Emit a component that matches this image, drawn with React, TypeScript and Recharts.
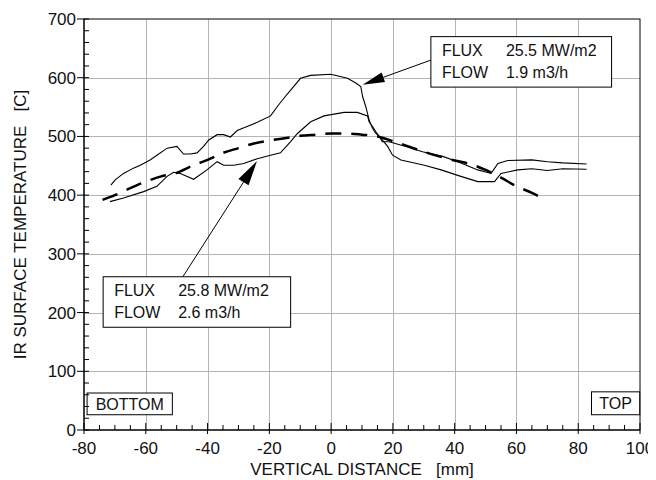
import { LineChart, Line, XAxis, YAxis, ReferenceLine, ReferenceArea, Label } from "recharts";

// FLUX 25.5 MW/m2, FLOW 1.9 m3/h (the curve peaking near 600 C)
const flow19X = [-71.3, -69.9, -67.2, -64, -61.8, -58.6, -56.4, -53.1, -49.9, -47.8, -45.6, -43.4, -41.3, -39.6, -36.9, -34.8, -32.6, -30.4, -27.2, -23.9, -19.6, -17.4, -15.3, -13.1, -9.9, -6.6, -0.1, 5.3, 8, 9.6, 10.2, 11.2, 11.8, 12.3, 13.4, 14.5, 16.1, 18.3, 19.9, 22.6, 30.2, 35.6, 42, 47.5, 52.9, 55, 60.4, 65, 70, 75, 82.7];
const flow19T = [417, 426, 437, 446, 451, 460, 468, 480, 483, 470, 470, 472, 483, 494, 503, 503, 499, 510, 517, 524, 535, 551, 565, 579, 599, 604, 606, 599, 591, 585, 568, 551, 539, 528, 514, 505, 497, 483, 468, 460, 451, 443, 432, 423, 423, 437, 443, 445, 442, 445, 444];

// FLUX 25.8 MW/m2, FLOW 2.6 m3/h
const flow26X = [-71.6, -67.2, -60.7, -56.4, -53.1, -51, -48.8, -44.5, -40.2, -36.9, -34.8, -31.5, -28.3, -23.9, -19.6, -16.4, -13.1, -10.9, -6.6, -2.3, 4.2, 8.5, 11.8, 12.3, 13.4, 14.5, 15.6, 16.6, 18.8, 24.2, 29.6, 36.1, 41, 47.5, 51.8, 54, 57.2, 65, 70, 75, 82.7];
const flow26T = [389, 395, 406, 415, 432, 439, 437, 427, 443, 457, 451, 451, 454, 462, 468, 472, 491, 505, 525, 535, 541, 541, 535, 525, 517, 508, 500, 491, 491, 483, 474, 466, 457, 443, 437, 454, 459, 460, 457, 455, 453];

// dashed fit curve
const fitX = [-74, -70, -65, -60, -55, -50, -45, -40, -35, -30, -25, -20, -15, -10, -5, 0, 5, 10, 15, 20, 25, 30, 35, 40, 45, 50, 55, 60, 65, 68];
const fitT = [392, 400, 412, 423, 432, 438, 450, 460, 472, 480, 488, 493, 497, 501, 503, 505, 505, 503, 500, 492, 483, 474, 466, 459, 453, 443, 430, 415, 404, 396];

const xTicks = [-80, -75, -70, -65, -60, -55, -50, -45, -40, -35, -30, -25, -20, -15, -10, -5, 0, 5, 10, 15, 20, 25, 30, 35, 40, 45, 50, 55, 60, 65, 70, 75, 80, 85, 90, 95, 100];
const yTicks = [0, 20, 40, 60, 80, 100, 120, 140, 160, 180, 200, 220, 240, 260, 280, 300, 320, 340, 360, 380, 400, 420, 440, 460, 480, 500, 520, 540, 560, 580, 600, 620, 640, 660, 680, 700];
const gridX = [-60, -40, -20, 0, 20, 40, 60, 80];
const gridY = [100, 200, 300, 400, 500, 600];

const X_MIN = -80;
const X_MAX = 100;
const Y_MIN = 0;
const Y_MAX = 700;

const FONT = "'Liberation Sans', Arial, sans-serif";

const toPoints = (xs: number[], ts: number[]) => xs.map((x, i) => ({ x, t: ts[i] }));

const XTick = ({ x, y, payload }: any) => {
    const major = payload.value % 20 === 0;
    return (
        <g>
            <line x1={x} x2={x} y1={y - (major ? 7 : 5)} y2={y + (major ? 4 : 0)} stroke="#000" />
            {major && (
                <text x={x} y={y + 24} textAnchor="middle" fontSize={17} fontFamily={FONT} fill="#111">
                    {payload.value}
                </text>
            )}
        </g>
    );
};

const YTick = ({ x, y, payload }: any) => {
    const major = payload.value % 100 === 0;
    return (
        <g>
            <line x1={x - (major ? 7 : 0)} x2={x + 5} y1={y} y2={y} stroke="#000" />
            {major && (
                <text x={x - 8} y={y + 6} textAnchor="end" fontSize={17} fontFamily={FONT} fill="#111">
                    {payload.value}
                </text>
            )}
        </g>
    );
};

// grid + frame, drawn inside a rect that spans the full domain
const GridArea = ({ x, y, width, height }: any) => {
    let d = "";
    gridX.forEach((v) => {
        const px = Math.round(x + ((v - X_MIN) / (X_MAX - X_MIN)) * width) + 0.5;
        d += `M${px},${y}L${px},${y + height}`;
    });
    gridY.forEach((v) => {
        const py = Math.round(y + height - ((v - Y_MIN) / (Y_MAX - Y_MIN)) * height) + 0.5;
        d += `M${x},${py}L${x + width},${py}`;
    });
    return (
        <g>
            <path d={d} fill="none" stroke="#b4b4b4" strokeWidth={1} />
            <rect x={x} y={y} width={width} height={height} fill="none" stroke="#000" strokeWidth={1} />
        </g>
    );
};

const Arrow = ({ x1, y1, x2, y2, head = 22, half = 5 }: any) => {
    const dx = x2 - x1;
    const dy = y2 - y1;
    const len = Math.hypot(dx, dy);
    const ux = dx / len;
    const uy = dy / len;
    const bx = x2 - ux * head;
    const by = y2 - uy * head;
    return (
        <g>
            <line x1={x1} y1={y1} x2={bx} y2={by} stroke="#000" strokeWidth={1} />
            <polygon
                points={`${x2},${y2} ${bx - uy * half},${by + ux * half} ${bx + uy * half},${by - ux * half}`}
                fill="#000"
            />
        </g>
    );
};

const InfoBox = ({ x, y, width, height, rows }: any) => (
    <g fontFamily={FONT} fontSize={16} fill="#111">
        <rect x={x} y={y} width={width} height={height} fill="#fff" stroke="#000" strokeWidth={1} />
        {rows.map((r: string[], i: number) => (
            <g key={i}>
                <text x={x + 11} y={y + 19 + i * 22}>{r[0]}</text>
                <text x={x + 75} y={y + 19 + i * 22}>{r[1]}</text>
            </g>
        ))}
    </g>
);

const TagBox = ({ x, y, width, height, text }: any) => (
    <g>
        <rect x={x} y={y} width={width} height={height} fill="#fff" stroke="#000" strokeWidth={1} />
        <text x={x + width / 2} y={y + height / 2 + 6} textAnchor="middle" fontSize={16} fontFamily={FONT} fill="#111">
            {text}
        </text>
    </g>
);

export default function App() {
    return (
        <div style={{ width: 648, height: 472 }}>
            <LineChart width={648} height={472} margin={{ top: 11, right: 16, bottom: 0, left: 0 }}>
                <XAxis
                    dataKey="x"
                    type="number"
                    domain={[X_MIN, X_MAX]}
                    ticks={xTicks}
                    interval={0}
                    tickSize={0}
                    tickMargin={0}
                    tickLine={false}
                    tick={<XTick />}
                    height={50}
                    axisLine={{ stroke: "#000" }}
                    allowDataOverflow
                >
                    <Label
                        content={({ viewBox }: any) => (
                            <text
                                x={viewBox.x + viewBox.width / 2}
                                y={viewBox.y + 45}
                                textAnchor="middle"
                                fontSize={17}
                                fontFamily={FONT}
                                fill="#111"
                                style={{ whiteSpace: "pre" }}
                            >
                                {"VERTICAL DISTANCE   [mm]"}
                            </text>
                        )}
                    />
                </XAxis>
                <YAxis
                    type="number"
                    domain={[Y_MIN, Y_MAX]}
                    ticks={yTicks}
                    interval={0}
                    tickSize={0}
                    tickMargin={0}
                    tickLine={false}
                    tick={<YTick />}
                    width={76}
                    axisLine={{ stroke: "#000" }}
                    allowDataOverflow
                >
                    <Label
                        content={({ viewBox }: any) => {
                            const cx = 12;
                            const cy = viewBox.y + viewBox.height / 2;
                            return (
                                <text
                                    x={cx}
                                    y={cy}
                                    transform={`rotate(-90 ${cx} ${cy})`}
                                    textAnchor="middle"
                                    dominantBaseline="central"
                                    fontSize={17}
                                    fontFamily={FONT}
                                    fill="#111"
                                    style={{ whiteSpace: "pre" }}
                                >
                                    {"IR SURFACE TEMPERATURE   [C]"}
                                </text>
                            );
                        }}
                    />
                </YAxis>

                <ReferenceArea x1={X_MIN} x2={X_MAX} y1={Y_MIN} y2={Y_MAX} shape={GridArea} />

                <Line
                    data={toPoints(fitX, fitT)}
                    dataKey="t"
                    type="monotone"
                    stroke="#000"
                    strokeWidth={2.5}
                    strokeDasharray="16 10"
                    dot={false}
                    isAnimationActive={false}
                />
                <Line
                    data={toPoints(flow19X, flow19T)}
                    dataKey="t"
                    type="linear"
                    stroke="#000"
                    strokeWidth={1.1}
                    dot={false}
                    isAnimationActive={false}
                />
                <Line
                    data={toPoints(flow26X, flow26T)}
                    dataKey="t"
                    type="linear"
                    stroke="#000"
                    strokeWidth={1.1}
                    dot={false}
                    isAnimationActive={false}
                />

                <ReferenceLine
                    segment={[{ x: 32.3, y: 630 }, { x: 10.2, y: 588 }]}
                    shape={(p: any) => <Arrow {...p} head={22} half={5} />}
                />
                <ReferenceLine
                    segment={[{ x: -48, y: 261 }, { x: -24, y: 458 }]}
                    shape={(p: any) => <Arrow {...p} head={25} half={6} />}
                />

                <ReferenceArea
                    x1={32.3}
                    x2={90.8}
                    y1={584}
                    y2={670}
                    shape={(p: any) => <InfoBox {...p} rows={[["FLUX", "25.5 MW/m2"], ["FLOW", "1.9 m3/h"]]} />}
                />
                <ReferenceArea
                    x1={-73.8}
                    x2={-13.1}
                    y1={175}
                    y2={261}
                    shape={(p: any) => <InfoBox {...p} rows={[["FLUX", "25.8 MW/m2"], ["FLOW", "2.6 m3/h"]]} />}
                />
                <ReferenceArea x1={-79} x2={-51.4} y1={26} y2={63} shape={(p: any) => <TagBox {...p} text="BOTTOM" />} />
                <ReferenceArea x1={84.3} x2={99.9} y1={26} y2={65} shape={(p: any) => <TagBox {...p} text="TOP" />} />
            </LineChart>
        </div>
    );
}
